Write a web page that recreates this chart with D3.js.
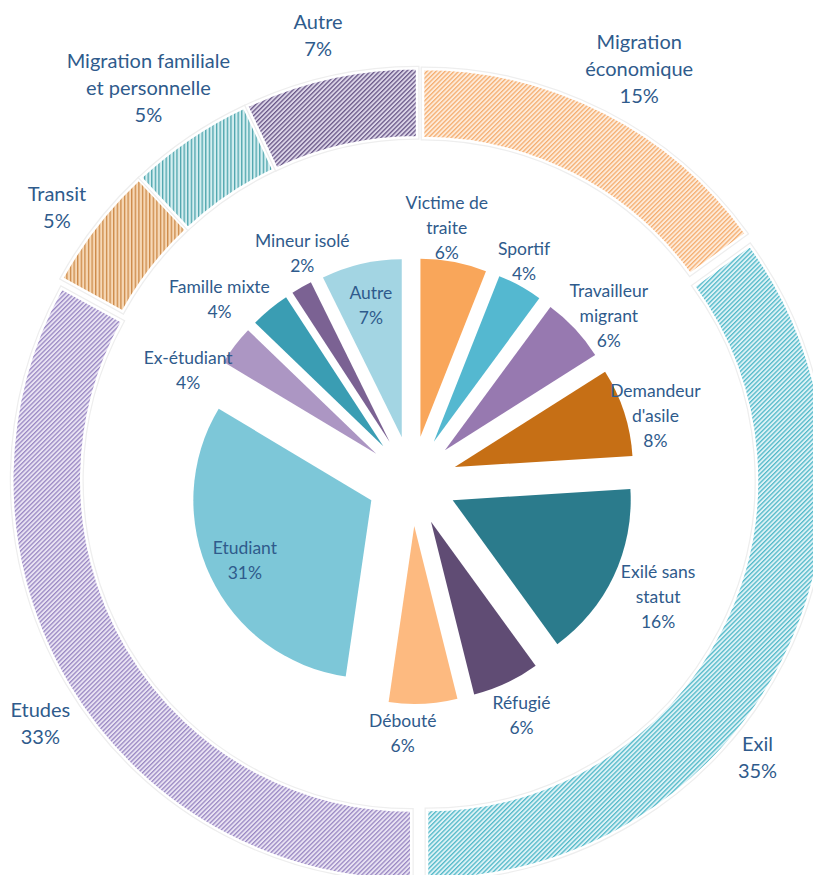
<!DOCTYPE html>
<html>
<head>
<meta charset="utf-8">
<script src="https://cdn.jsdelivr.net/npm/d3@7"></script>
<style>
  html, body { margin: 0; padding: 0; background: #ffffff; }
  svg { display: block; }
  text { font-family: Lato, "Open Sans", sans-serif; fill: #2F5B8C; }
</style>
</head>
<body>
<svg id="chart" width="813" height="875"></svg>
<script>
// ---------- DATA ----------
const outerCategories = ["Migration\néconomique", "Exil", "Etudes", "Transit", "Migration familiale\net personnelle", "Autre"];
const outerValues = [15, 35, 33, 5, 5, 7];

const innerCategories = ["Victime de\ntraite", "Sportif", "Travailleur\nmigrant", "Demandeur\nd'asile",
  "Exilé sans\nstatut", "Réfugié", "Débouté", "Etudiant", "Ex-étudiant", "Famille mixte", "Mineur isolé", "Autre"];
const innerValues = [6.0, 4.1, 5.9, 8.0, 16.0, 6.1, 6.2, 31.3, 3.6, 3.6, 1.9, 7.3];

// ---------- STYLE / LAYOUT ----------
const W = 813, H = 875;
const outerPatterns = [
  { bg: "#FDEBDA", fg: "#F5AE70", type: "diag" },
  { bg: "#DDF2F6", fg: "#52B9C9", type: "diag" },
  { bg: "#E9E3F3", fg: "#9A88C3", type: "diag" },
  { bg: "#F6D8B6", fg: "#CC8947", type: "vert" },
  { bg: "#D4EEF0", fg: "#4AA3AB", type: "vert" },
  { bg: "#DCD5E8", fg: "#6A5888", type: "diag" }
];
const innerColors = ["#F9A65A", "#54B8D0", "#9779B0", "#C66F15", "#2B7B8C", "#604C74",
  "#FDBA80", "#7DC7D8", "#AC96C3", "#3A9DB3", "#7B6293", "#A3D5E3"];

const outerGeo = { cx: 419, cy: 476, rIn: 330, rOut: 399, explode: 9 };
const innerGeo = { cx: 412, cy: 481, r: 178, explode: 45 };

// label placement: [angle offset in degrees from slice middle, radius from centre]
const outerLabelPos = [[1.4, 463], [12.7, 440], [-2.5, 452], [-1.2, 451], [-0.7, 473], [-0.3, 452]];
const innerLabelPos = [[-3, 256], [-2, 247], [3, 257], [3, 252], [0, 272], [0, 259], [5, 252],
  [0, 185], [-11, 250], [-7, 265], [4, 253], [0, 181]];

const pct = d3.format(".0%");

// ---------- DRAW ----------
const svg = d3.select("#chart");
const defs = svg.append("defs");

outerPatterns.forEach((p, i) => {
  const size = p.type === "diag" ? 3.2 : 3.6;
  const pat = defs.append("pattern")
    .attr("id", "pat" + i)
    .attr("patternUnits", "userSpaceOnUse")
    .attr("width", size)
    .attr("height", size)
    .attr("patternTransform", p.type === "diag" ? "rotate(45)" : null);
  pat.append("rect").attr("width", 10).attr("height", 10).attr("fill", p.bg);
  pat.append("rect").attr("x", 0).attr("y", 0).attr("width", p.type === "diag" ? 1.3 : 1.3)
    .attr("height", 10).attr("fill", p.fg);
});

const outerTotal = d3.sum(outerValues);
const innerTotal = d3.sum(innerValues);

const pie = d3.pie().sort(null).value(d => d);

// Outer ring
const outerArcs = pie(outerValues);
const arcOuter = d3.arc().innerRadius(outerGeo.rIn).outerRadius(outerGeo.rOut);
const gOuter = svg.append("g").attr("transform", `translate(${outerGeo.cx},${outerGeo.cy})`);

function shift(a, dist) {
  const m = (a.startAngle + a.endAngle) / 2;
  return [Math.sin(m) * dist, -Math.cos(m) * dist];
}

const segs = gOuter.selectAll("g.seg").data(outerArcs).enter().append("g")
  .attr("class", "seg")
  .attr("transform", d => { const s = shift(d, outerGeo.explode); return `translate(${s[0]},${s[1]})`; });
segs.append("path").attr("d", arcOuter).attr("fill", "none")
  .attr("stroke", "#EEEEEE").attr("stroke-width", 5);
segs.append("path").attr("d", arcOuter).attr("fill", (d, i) => `url(#pat${i})`)
  .attr("stroke", "#ffffff").attr("stroke-width", 2.5);

// Inner exploded pie
const innerArcs = pie(innerValues);
const arcInner = d3.arc().innerRadius(0).outerRadius(innerGeo.r);
const gInner = svg.append("g").attr("transform", `translate(${innerGeo.cx},${innerGeo.cy})`);
gInner.selectAll("path").data(innerArcs).enter().append("path")
  .attr("d", arcInner)
  .attr("fill", (d, i) => innerColors[i])
  .attr("transform", d => { const s = shift(d, innerGeo.explode); return `translate(${s[0]},${s[1]})`; });

// Labels
function drawLabel(g, a, cfg, text, fontSize, lineH) {
  const m = (a.startAngle + a.endAngle) / 2 + cfg[0] * Math.PI / 180;
  const x = Math.sin(m) * cfg[1], y = -Math.cos(m) * cfg[1];
  const lines = text.split("\n");
  const t = g.append("text").attr("text-anchor", "middle").attr("font-size", fontSize);
  lines.forEach((ln, k) => {
    t.append("tspan").attr("x", x)
      .attr("y", y + (k - (lines.length - 1) / 2) * lineH)
      .attr("dy", "0.36em").text(ln);
  });
}

outerArcs.forEach((a, i) => {
  drawLabel(gOuter, a, outerLabelPos[i], outerCategories[i] + "\n" + pct(outerValues[i] / outerTotal), 20, 27);
});
innerArcs.forEach((a, i) => {
  drawLabel(gInner, a, innerLabelPos[i], innerCategories[i] + "\n" + pct(innerValues[i] / innerTotal), 17.5, 25);
});
</script>
</body>
</html>
